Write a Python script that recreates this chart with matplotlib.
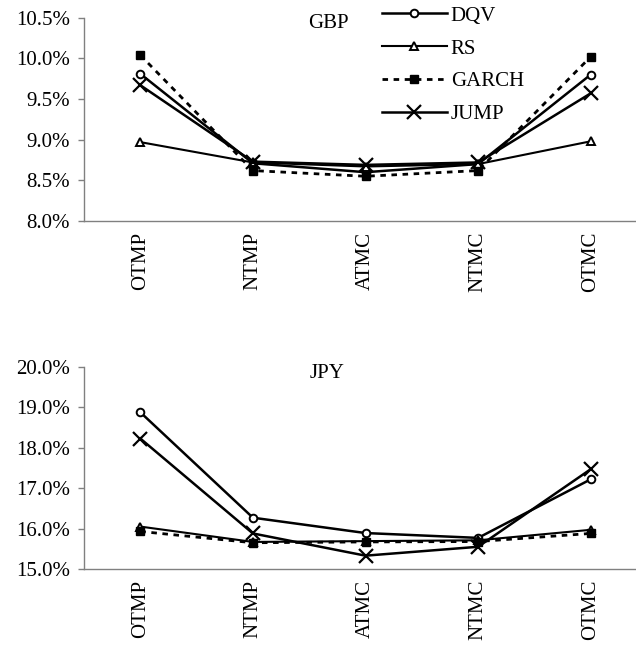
import matplotlib
matplotlib.use('Agg')
import matplotlib.pyplot as plt
import numpy as np

plt.rcParams['font.family'] = ['Liberation Serif', 'DejaVu Serif']

categories = ['OTMP', 'NTMP', 'ATMC', 'NTMC', 'OTMC']

# GBP values in percent
gbp_dqv = [9.81, 8.71, 8.60, 8.70, 9.80]
gbp_rs = [8.97, 8.72, 8.67, 8.70, 8.98]
gbp_garch = [10.04, 8.62, 8.55, 8.62, 10.02]
gbp_jump = [9.67, 8.73, 8.69, 8.72, 9.57]

# JPY values in percent
jpy_dqv = [18.88, 16.27, 15.89, 15.77, 17.22]
jpy_rs = [16.05, 15.67, 15.69, 15.71, 15.97]
jpy_garch = [15.93, 15.65, 15.67, 15.68, 15.88]
jpy_jump = [18.23, 15.88, 15.33, 15.55, 17.47]

fig = plt.figure(figsize=(6.36, 6.51), dpi=100)
W, H = 636, 651


def make_axes(top_px, bottom_px):
    left = 84 / W
    right = 647 / W
    return fig.add_axes([left, 1 - bottom_px / H, right - left, (bottom_px - top_px) / H])


def draw(ax, dqv, rs, garch, jump, ymin, ymax, step, title, title_xy):
    x = np.arange(len(categories))
    ax.plot(x, dqv, color='black', lw=1.8, marker='o', ms=5.5, mfc='white', mec='black', mew=1.4, label='DQV')
    ax.plot(x, rs, color='black', lw=1.5, marker='^', ms=5.5, mfc='white', mec='black', mew=1.4, label='RS')
    ax.plot(x, garch, color='black', lw=2.0, ls=(0, (2, 2)), marker='s', ms=6, mfc='black', mec='black', label='GARCH')
    ax.plot(x, jump, color='black', lw=1.8, marker='x', ms=10, mew=1.6, label='JUMP')
    ax.set_xlim(-0.5, 4.5)
    ax.set_ylim(ymin, ymax)
    ticks = np.arange(ymin, ymax + step / 2, step)
    ax.set_yticks(ticks)
    ax.set_yticklabels(['%.1f%%' % v for v in ticks], fontsize=15)
    ax.set_xticks(x)
    ax.set_xticklabels(categories, rotation=90, fontsize=15)
    ax.tick_params(axis='x', length=0, pad=8)
    ax.tick_params(axis='y', length=4, width=1, color='#808080', pad=6)
    for s in ['top', 'right']:
        ax.spines[s].set_visible(False)
    for s in ['left', 'bottom']:
        ax.spines[s].set_color('#808080')
        ax.spines[s].set_linewidth(1)
    fig.text(title_xy[0] / W, 1 - title_xy[1] / H, title, fontsize=15, ha='center', va='center')


ax1 = make_axes(17.7, 221)
draw(ax1, gbp_dqv, gbp_rs, gbp_garch, gbp_jump, 8.0, 10.5, 0.5, 'GBP', (328, 24))

ax2 = make_axes(367, 569)
draw(ax2, jpy_dqv, jpy_rs, jpy_garch, jpy_jump, 15.0, 20.0, 1.0, 'JPY', (327, 373))

ax1.legend(loc='upper left', bbox_to_anchor=(382 / W, 1 - 6 / H), bbox_transform=fig.transFigure,
           frameon=False, fontsize=15, handlelength=3.1, handletextpad=0.2, labelspacing=0.64,
           borderpad=0, borderaxespad=0, numpoints=1)

fig.savefig('out.png', dpi=100)
